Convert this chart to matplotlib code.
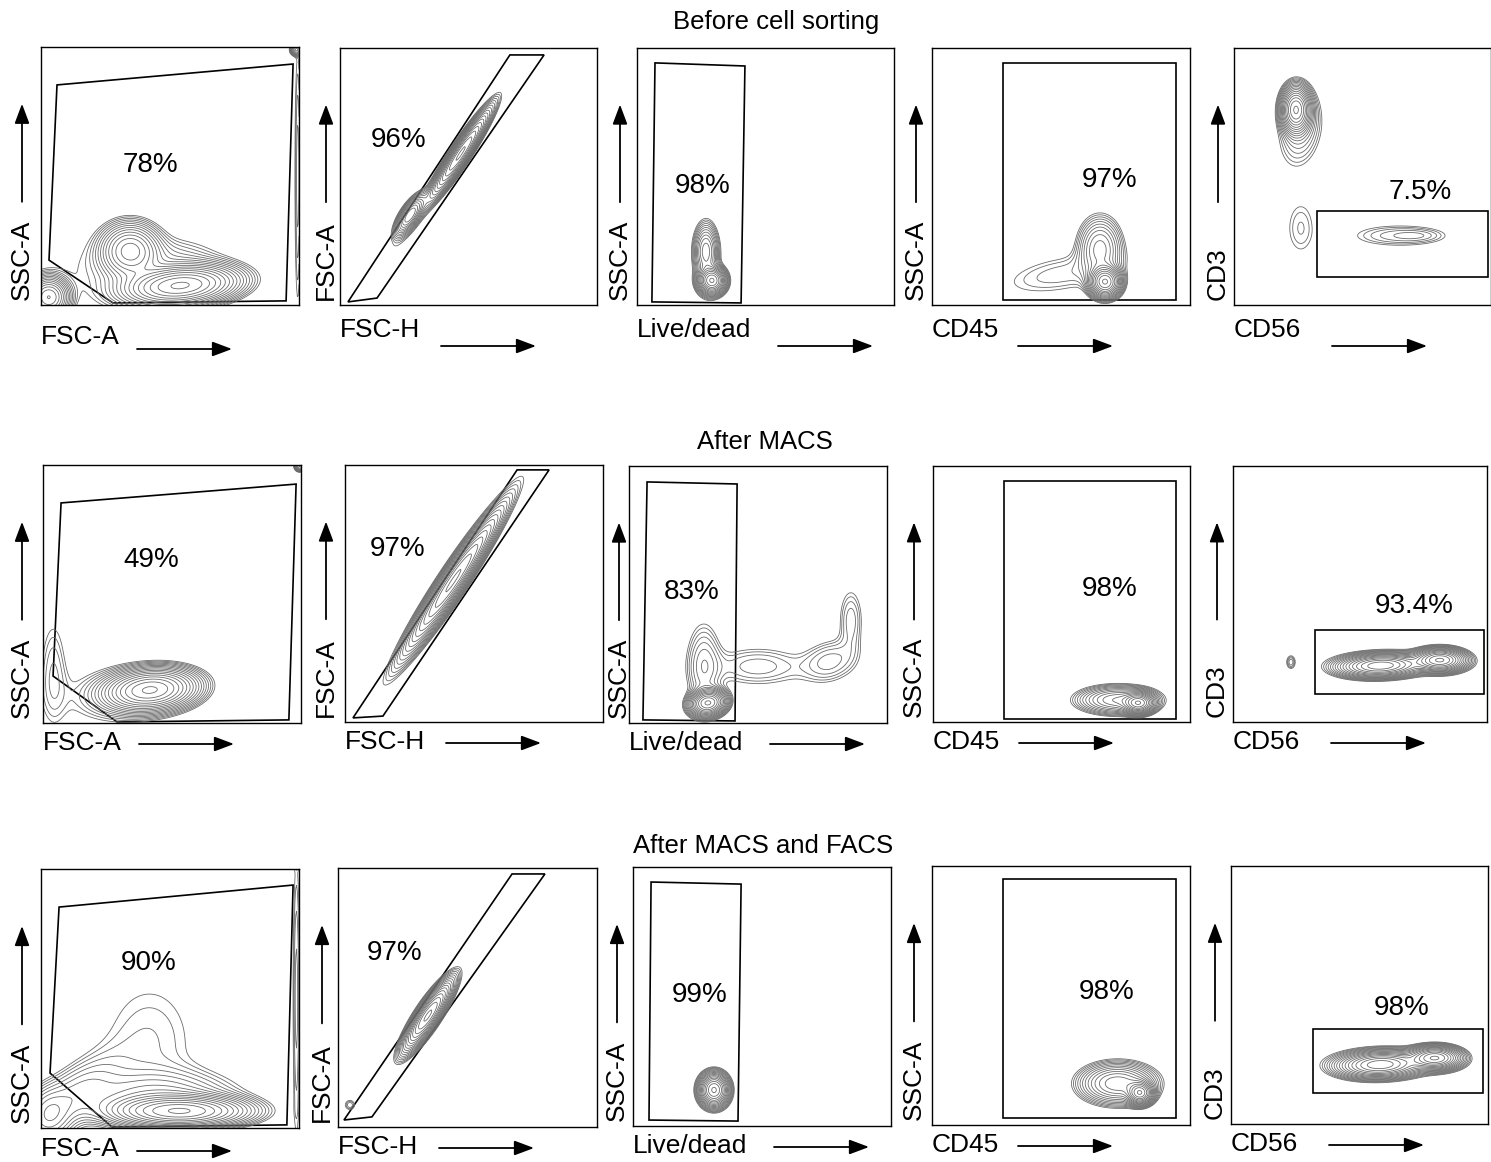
import numpy as np
import matplotlib
matplotlib.use('Agg')
import matplotlib.pyplot as plt
from matplotlib.patches import Polygon

plt.rcParams['font.family'] = ['Liberation Sans', 'DejaVu Sans']

W, H = 1491, 1162

# row titles and where they sit (pixels)
row_titles = ['Before cell sorting', 'After MACS', 'After MACS and FACS']
title_xy = [(776, 22), (765, 442), (763, 846)]

x_names = ['FSC-A', 'FSC-H', 'Live/dead', 'CD45', 'CD56']
y_names = ['SSC-A', 'FSC-A', 'SSC-A', 'SSC-A', 'CD3']

# panel boxes in pixels: left, top, width, height
boxes = [
    [(41, 47, 258, 258), (340, 48, 257, 257), (637, 48, 257, 257), (932, 48, 258, 257), (1234, 48, 257, 257)],
    [(43, 465, 258, 258), (345, 465, 258, 257), (629, 466, 258, 257), (933, 466, 257, 256), (1233, 466, 254, 256)],
    [(41, 869, 258, 259), (338, 868, 259, 259), (633, 867, 258, 259), (932, 866, 258, 259), (1231, 866, 257, 258)],
]

# gate percentages and their positions (axes fraction)
pct_text = [
    ['78%', '96%', '98%', '97%', '7.5%'],
    ['49%', '97%', '83%', '98%', '93.4%'],
    ['90%', '97%', '99%', '98%', '98%'],
]
pct_pos = [
    [(0.426, 0.543), (0.226, 0.642), (0.257, 0.463), (0.690, 0.488), (0.724, 0.440)],
    [(0.419, 0.632), (0.202, 0.673), (0.244, 0.510), (0.689, 0.518), (0.713, 0.453)],
    [(0.419, 0.637), (0.220, 0.672), (0.260, 0.506), (0.678, 0.514), (0.665, 0.450)],
]

# gate outlines (axes fraction)
gates = [
    [
        [(0.062, 0.853), (0.977, 0.934), (0.950, 0.016), (0.279, 0.008), (0.031, 0.174)],
        [(0.031, 0.012), (0.661, 0.973), (0.794, 0.973), (0.144, 0.027)],
        [(0.070, 0.942), (0.420, 0.930), (0.405, 0.008), (0.058, 0.012)],
        [(0.275, 0.942), (0.946, 0.942), (0.946, 0.019), (0.275, 0.019)],
        [(0.323, 0.366), (0.988, 0.366), (0.988, 0.109), (0.323, 0.109)],
    ],
    [
        [(0.070, 0.853), (0.981, 0.926), (0.953, 0.012), (0.287, 0.004), (0.039, 0.182)],
        [(0.031, 0.016), (0.667, 0.981), (0.791, 0.981), (0.147, 0.023)],
        [(0.070, 0.938), (0.419, 0.930), (0.411, 0.008), (0.054, 0.012)],
        [(0.276, 0.942), (0.946, 0.942), (0.946, 0.012), (0.276, 0.012)],
        [(0.323, 0.359), (0.988, 0.359), (0.988, 0.109), (0.323, 0.109)],
    ],
    [
        [(0.070, 0.853), (0.977, 0.938), (0.953, 0.012), (0.275, 0.004), (0.035, 0.212)],
        [(0.023, 0.027), (0.672, 0.977), (0.799, 0.977), (0.131, 0.039)],
        [(0.070, 0.942), (0.419, 0.934), (0.407, 0.019), (0.062, 0.023)],
        [(0.275, 0.950), (0.946, 0.950), (0.946, 0.027), (0.275, 0.027)],
        [(0.319, 0.368), (0.981, 0.368), (0.981, 0.120), (0.319, 0.120)],
    ],
]

# cell populations: (cx, cy, sigma_major, sigma_minor, angle_deg, peak)
populations = [
    [
        [(0.345, 0.21, 0.06, 0.055, 0, 0.40), (0.54, 0.075, 0.11, 0.038, 5, 1.0),
         (0.03, 0.03, 0.04, 0.04, 0, 0.6), (0.35, 0.13, 0.22, 0.10, 0, 0.03),
         (0.50, 0.17, 0.12, 0.05, 0, 0.04), (0.995, 0.5, 0.35, 0.008, 90, 0.05),
         (0.99, 0.99, 0.012, 0.012, 0, 0.3)],
        [(0.47, 0.59, 0.10, 0.016, 56.7, 1.0), (0.272, 0.35, 0.045, 0.017, 56.7, 0.45),
         (0.33, 0.40, 0.23, 0.022, 56.7, 0.025)],
        [(0.292, 0.095, 0.026, 0.026, 0, 1.0), (0.268, 0.21, 0.055, 0.024, 90, 0.25),
         (0.275, 0.15, 0.09, 0.035, 90, 0.03)],
        [(0.671, 0.09, 0.03, 0.03, 0, 1.0), (0.651, 0.22, 0.065, 0.045, 90, 0.2),
         (0.50, 0.12, 0.16, 0.05, 10, 0.04)],
        [(0.241, 0.76, 0.045, 0.028, 90, 1.0), (0.26, 0.68, 0.09, 0.05, 80, 0.07),
         (0.26, 0.30, 0.08, 0.042, 90, 0.035), (0.64, 0.27, 0.12, 0.028, 0, 0.05),
         (0.72, 0.27, 0.06, 0.015, 0, 0.02)],
    ],
    [
        [(0.415, 0.128, 0.09, 0.04, 5, 1.0), (0.04, 0.2, 0.14, 0.035, 90, 0.04),
         (0.25, 0.10, 0.15, 0.08, 0, 0.03), (0.995, 0.995, 0.01, 0.01, 0, 0.3)],
        [(0.42, 0.55, 0.16, 0.022, 56.5, 1.0), (0.42, 0.55, 0.30, 0.028, 56.5, 0.04)],
        [(0.306, 0.078, 0.035, 0.025, 10, 1.0), (0.29, 0.22, 0.10, 0.04, 90, 0.08),
         (0.50, 0.22, 0.12, 0.05, 0, 0.05), (0.78, 0.24, 0.07, 0.05, 20, 0.06),
         (0.86, 0.40, 0.08, 0.03, 90, 0.05)],
        [(0.80, 0.074, 0.03, 0.02, 0, 1.0), (0.72, 0.086, 0.08, 0.028, 0, 0.35)],
        [(0.58, 0.22, 0.08, 0.022, 2, 0.9), (0.815, 0.242, 0.05, 0.022, 0, 1.0),
         (0.228, 0.234, 0.018, 0.012, 90, 0.05), (0.65, 0.23, 0.17, 0.03, 0, 0.04)],
    ],
    [
        [(0.54, 0.065, 0.13, 0.03, 0, 1.0), (0.45, 0.12, 0.18, 0.06, 0, 0.12),
         (0.42, 0.33, 0.19, 0.14, 90, 0.035), (0.12, 0.12, 0.14, 0.06, 40, 0.08),
         (0.03, 0.05, 0.05, 0.06, 0, 0.1),
         (0.40, 1.02, 0.40, 0.015, 0, 0.05), (0.99, 0.5, 0.4, 0.01, 90, 0.05)],
        [(0.347, 0.43, 0.08, 0.02, 56.5, 1.0), (0.046, 0.085, 0.015, 0.015, 0, 0.04)],
        [(0.314, 0.139, 0.032, 0.028, 90, 1.0)],
        [(0.806, 0.124, 0.025, 0.022, 0, 1.0), (0.72, 0.16, 0.075, 0.04, 0, 0.4)],
        [(0.58, 0.23, 0.08, 0.025, 2, 0.9), (0.794, 0.256, 0.05, 0.022, 0, 1.0),
         (0.62, 0.24, 0.16, 0.035, 0, 0.04)],
    ],
]

# axis-name placement, pixels: x label drop, x arrow drop, y label inset
x_label_drop = [[32, 25, 25, 25, 25], [20, 20, 20, 20, 20], [21, 20, 20, 20, 20]]
x_arrow_drop = [[44, 41, 41, 41, 41], [21, 21, 21, 21, 21], [23, 21, 21, 21, 21]]
x_arrow_from = [96, 101, 141, 86, 98]
y_label_gap = [[19, 14, 17, 16, 16], [21, 19, 10, 19, 16], [19, 16, 16, 18, 16]]

grid = np.linspace(0, 1, 320)
GX, GY = np.meshgrid(grid, grid)


def density(pops):
    z = np.zeros_like(GX)
    for cx, cy, s1, s2, ang, peak in pops:
        t = np.deg2rad(ang)
        dx, dy = GX - cx, GY - cy
        u = dx * np.cos(t) + dy * np.sin(t)
        v = -dx * np.sin(t) + dy * np.cos(t)
        z += peak * np.exp(-0.5 * ((u / s1) ** 2 + (v / s2) ** 2))
    return z


arrow = dict(arrowstyle='-|>,head_length=1.2,head_width=0.45',
             color='black', lw=1.3, shrinkA=0, shrinkB=0)

fig = plt.figure(figsize=(W / 100, H / 100), dpi=100)

for (tx, ty), t in zip(title_xy, row_titles):
    fig.text(tx / W, 1 - ty / H, t, ha='center', va='center', fontsize=18.5)

for r in range(3):
    for c in range(5):
        l, t, w, h = boxes[r][c]
        ax = fig.add_axes([l / W, 1 - (t + h) / H, w / W, h / H])
        ax.set_xlim(0, 1)
        ax.set_ylim(0, 1)
        ax.set_xticks([])
        ax.set_yticks([])
        for sp in ax.spines.values():
            sp.set_linewidth(1.0)

        z = density(populations[r][c])
        levels = np.geomspace(0.02, 0.95, 17) * z.max()
        ax.contour(GX, GY, z, levels=levels, colors='0.42', linewidths=0.6)

        ax.add_patch(Polygon(gates[r][c], closed=True, fill=False, ec='black', lw=1.2))
        px, py = pct_pos[r][c]
        ax.text(px, py, pct_text[r][c], ha='center', va='center', fontsize=20)

        # axis names with direction arrows
        xn, yn = x_names[c], y_names[c]
        ly = -x_label_drop[r][c] / h
        ay = -x_arrow_drop[r][c] / h
        ax.text(0.0, ly, xn, ha='left', va='center', fontsize=19,
                transform=ax.transAxes, clip_on=False)
        a0 = x_arrow_from[c] / w
        ax.annotate('', xy=(a0 + 95 / w, ay), xytext=(a0, ay),
                    xycoords='axes fraction', arrowprops=arrow)
        gx = -y_label_gap[r][c] / w
        ax.text(gx, 0.02, yn, ha='center', va='bottom', rotation=90, fontsize=19,
                transform=ax.transAxes, clip_on=False)
        ax.annotate('', xy=(gx, 0.78), xytext=(gx, 0.40),
                    xycoords='axes fraction', arrowprops=arrow)

fig.savefig('out.png', dpi=100, facecolor='white')
